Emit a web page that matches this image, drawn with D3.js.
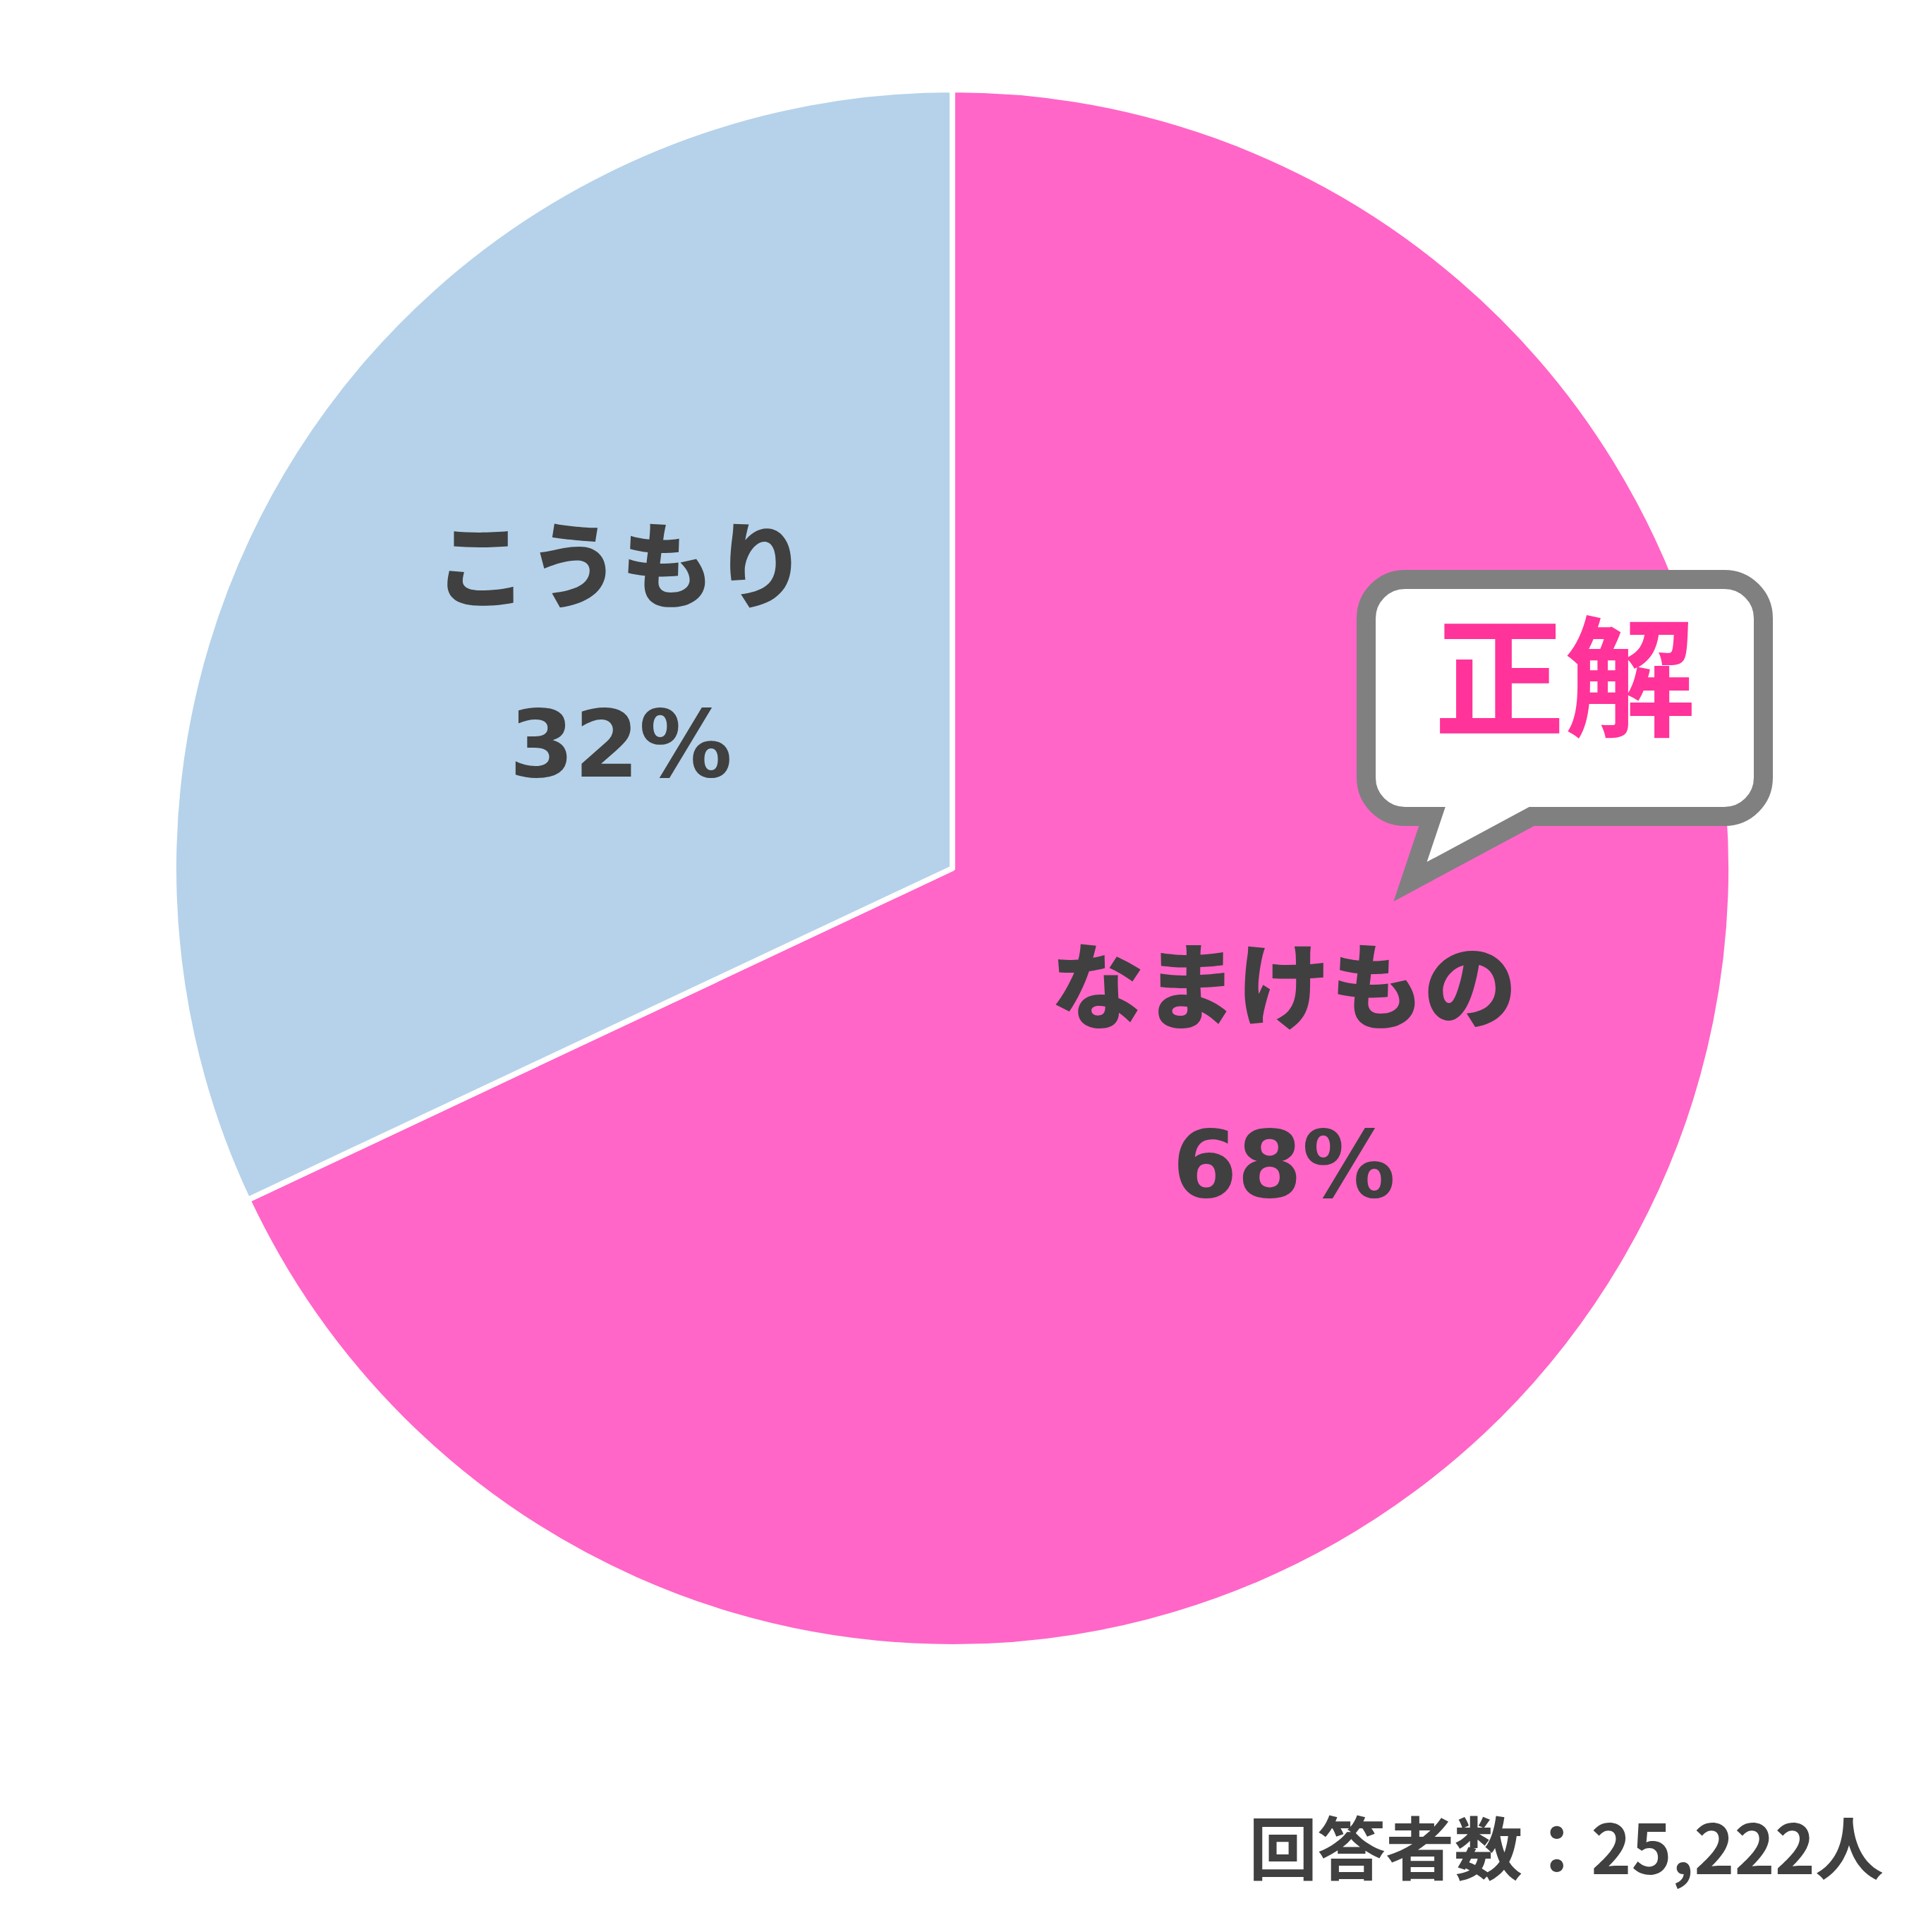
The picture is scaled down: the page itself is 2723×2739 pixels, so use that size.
<!DOCTYPE html>
<html>
<head>
<meta charset="utf-8">
<script src="https://cdn.jsdelivr.net/npm/d3@7"></script>
<style>
  html, body { margin: 0; padding: 0; background: #ffffff; }
  svg { display: block; }
</style>
</head>
<body>
<svg id="chart" width="2723" height="2739"></svg>
<script>
// ---- data ----
const categories = ["なまけもの", "こうもり"];
const values = [68, 32];
const pctLabels = ["68%", "32%"];
const sliceColors = ["#FF66C8", "#B5D2EA"];
const correctLabel = "正解";
const footerText = "回答者数：25,222人";

// ---- layout ----
const W = 2723, H = 2739;
const cx = 1350, cy = 1231, R = 1100;
const svg = d3.select("#chart");
svg.append("rect").attr("width", W).attr("height", H).attr("fill", "#ffffff");

const pie = d3.pie().sort(null).value(d => d)(values);
const arc = d3.arc().innerRadius(0).outerRadius(R + 4);

const g = svg.append("g").attr("transform", `translate(${cx},${cy})`);
g.selectAll("path.slice")
  .data(pie)
  .join("path")
  .attr("class", "slice")
  .attr("d", arc)
  .attr("fill", (d, i) => sliceColors[i])
  .attr("stroke", "#ffffff")
  .attr("stroke-width", 8)
  .attr("stroke-linejoin", "round");

// labels
const labelDist = 0.506 * R;
const catOff = 139, pctOff = 122;
const pctFont = "'DejaVu Sans', sans-serif";
const cjkFont = "'Noto Sans CJK JP', 'Noto Sans CJK SC', sans-serif";
pie.forEach((d, i) => {
  const a = (d.startAngle + d.endAngle) / 2;
  const x = labelDist * Math.sin(a);
  const y = -labelDist * Math.cos(a);
  g.append("text")
    .attr("x", x).attr("y", y - catOff)
    .attr("text-anchor", "middle")
    .attr("dominant-baseline", "central")
    .attr("font-family", cjkFont)
    .attr("font-weight", 900)
    .attr("font-size", 132)
    .attr("fill", "#404040")
    .text(categories[i]);
  g.append("text")
    .attr("x", x).attr("y", y + pctOff)
    .attr("text-anchor", "middle")
    .attr("dominant-baseline", "central")
    .attr("font-family", pctFont)
    .attr("font-weight", "bold")
    .attr("font-size", 132)
    .attr("fill", "#404040")
    .text(pctLabels[i]);
});

// speech bubble annotation
const bx0 = 1936.5, by0 = 821.5, bx1 = 2499.5, by1 = 1157.5, br = 55;
const tailL = 2030, tailR = 2171, tipX = 1999, tipY = 1250;
const p = d3.path();
p.moveTo(bx0 + br, by0);
p.lineTo(bx1 - br, by0);
p.arcTo(bx1, by0, bx1, by0 + br, br);
p.lineTo(bx1, by1 - br);
p.arcTo(bx1, by1, bx1 - br, by1, br);
p.lineTo(tailR, by1);
p.lineTo(tipX, tipY);
p.lineTo(tailL, by1);
p.lineTo(bx0 + br, by1);
p.arcTo(bx0, by1, bx0, by1 - br, br);
p.lineTo(bx0, by0 + br);
p.arcTo(bx0, by0, bx0 + br, by0, br);
p.closePath();
svg.append("path")
  .attr("d", p.toString())
  .attr("fill", "#ffffff")
  .attr("stroke", "#808080")
  .attr("stroke-width", 27)
  .attr("stroke-linejoin", "miter")
  .attr("stroke-miterlimit", 10);

svg.append("text")
  .attr("x", (bx0 + bx1) / 2)
  .attr("y", 1030)
  .attr("text-anchor", "middle")
  .attr("font-family", cjkFont)
  .attr("font-weight", 700)
  .attr("font-size", 185)
  .attr("fill", "#FF3399")
  .text(correctLabel);

// footer
svg.append("text")
  .attr("x", 2670)
  .attr("y", 2657)
  .attr("text-anchor", "end")
  .attr("font-family", cjkFont)
  .attr("font-weight", 700)
  .attr("font-size", 97)
  .attr("fill", "#404040")
  .text(footerText);
</script>
</body>
</html>
